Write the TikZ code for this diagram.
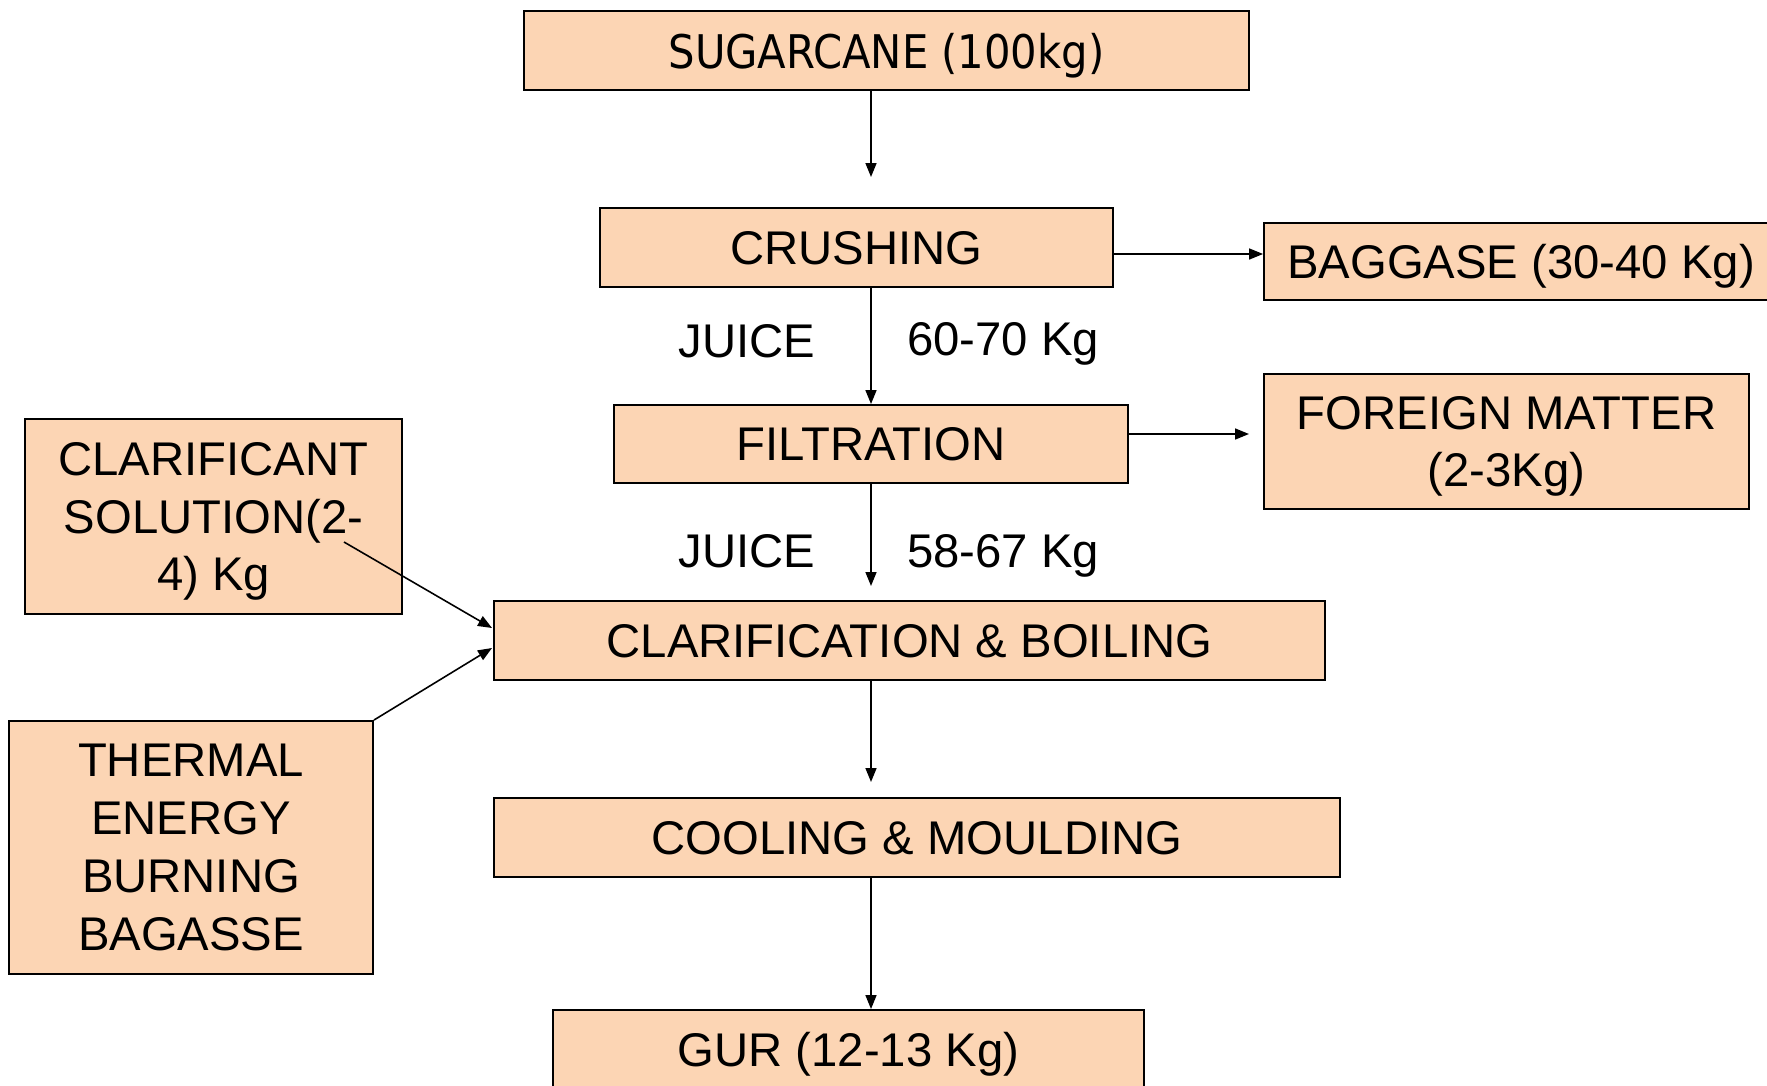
\documentclass[tikz,border=0pt]{standalone}
\usepackage{fontspec}
\setmainfont{Liberation Sans}
\newfontfamily\topfont{DejaVu Sans Condensed}
\usetikzlibrary{positioning,arrows.meta}
\definecolor{peach}{RGB}{252,213,180}
\tikzset{
  stage/.style={draw=black,fill=peach,line width=1.1pt,inner sep=0pt,align=center,
    minimum height=1.58cm,text depth=0pt,font=\fontsize{26.9}{33}\selectfont},
  flow/.style={line width=0.9pt,-{Triangle[length=0.28cm,width=0.22cm]}},
  lbl/.style={inner sep=0pt,text depth=0pt,font=\fontsize{26.9}{33}\selectfont}
}

\begin{document}
\begin{tikzpicture}[x=0.02cm,y=-0.02cm]
\clip (0,0) rectangle (1767,1085);
\fill[white] (0,0) rectangle (1767,1085);

% main line
\node (sugar) at (886.5,50.5) [stage,minimum width=14.5cm,font=\topfont\fontsize{26.4}{31}\selectfont] {SUGARCANE (100kg)};
\node (crush) at (856.5,247.5) [stage,minimum width=10.26cm] {CRUSHING};
\node (filt) at (871,444) [stage,minimum width=10.28cm,minimum height=1.56cm] {FILTRATION};
\node (boil) at (909.5,640.5) [stage,minimum width=16.62cm] {CLARIFICATION \& BOILING};
\node (cool) at (917,837.5) [stage,minimum width=16.92cm] {COOLING \& MOULDING};
\node (gur) at (848.5,1049.5) [stage,minimum width=11.82cm] {GUR (12-13 Kg)};

% side boxes
\node (bag) at (1521,261.5) [stage,minimum width=10.28cm,minimum height=1.54cm] {BAGGASE (30-40 Kg)};
\node (foreign) at (1506.5,441.5) [stage,minimum width=9.7cm,minimum height=2.7cm] {FOREIGN MATTER\\(2-3Kg)};
\node (clarif) at (213.5,516.5) [stage,minimum width=7.54cm,minimum height=3.9cm] {CLARIFICANT\\SOLUTION(2-\\4) Kg};
\node (thermal) at (191,847.5) [stage,minimum width=7.28cm,minimum height=5.06cm] {THERMAL\\ENERGY\\BURNING\\BAGASSE};

% labels
\node (j1) at (747,341) [lbl] {JUICE};
\node (m1) at (1003,339) [lbl] {60-70 Kg};
\node (j2) at (747,551) [lbl] {JUICE};
\node (m2) at (1003,551) [lbl] {58-67 Kg};

% loose arrow ends
\coordinate (t1) at (871,177);
\coordinate (t2) at (871,586);
\coordinate (t3) at (871,782);
\coordinate (t4) at (1249,434);
\coordinate (s1) at (344,542);
\coordinate (e1) at (492,628);
\coordinate (e2) at (492,648);

\draw[flow] (sugar.south -| filt) -- (t1);
\draw[flow] (crush.south -| filt) -- (filt.north);
\draw[flow] (filt.south) -- (t2);
\draw[flow] (boil.south -| filt) -- (t3);
\draw[flow] (cool.south -| filt) -- (gur.north -| filt);
\draw[flow] ([yshift=-0.13cm]crush.east) -- ([yshift=-0.13cm]crush.east -| bag.west);
\draw[flow] (filt.east |- t4) -- (t4);
\draw[flow] (s1) -- (e1);
\draw[flow] (thermal.north east) -- (e2);
\end{tikzpicture}
\end{document}
